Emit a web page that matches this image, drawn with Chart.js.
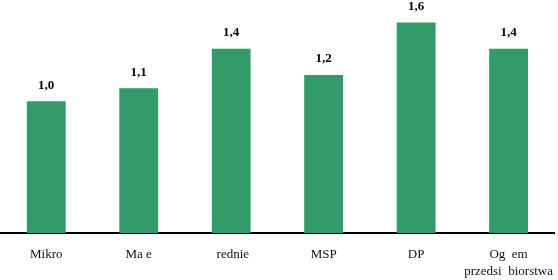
<!DOCTYPE html>
<html>
<head>
<meta charset="utf-8">
<script src="https://cdn.jsdelivr.net/npm/chart.js@4"></script>
<style>
  html, body { margin: 0; padding: 0; background: #fff; }
  #wrap { width: 558px; height: 280px; }
</style>
</head>
<body>
<div id="wrap"><canvas id="chart"></canvas></div>
<script>
const categories = ['Mikro', 'Ma e', ' rednie', 'MSP', 'DP', ['Og  em', 'przedsi  biorstwa']];
const values = [1.0, 1.1, 1.4, 1.2, 1.6, 1.4];

// wartosci nad slupkami, z przecinkiem
const valueLabels = {
    id: 'valueLabels',
    afterDatasetsDraw(chart) {
        const ctx = chart.ctx;
        const meta = chart.getDatasetMeta(0);
        ctx.save();
        ctx.font = 'bold 13px "Liberation Serif"';
        ctx.fillStyle = '#000';
        ctx.textAlign = 'center';
        ctx.textBaseline = 'middle';
        meta.data.forEach(function (bar, i) {
            ctx.fillText(values[i].toFixed(1).replace('.', ','), bar.x, bar.y - 16);
        });
        ctx.restore();
    }
};

const ctx = document.getElementById('chart').getContext('2d');
new Chart(ctx, {
    type: 'bar',
    data: {
        labels: categories,
        datasets: [{
            data: values,
            backgroundColor: '#339a6a',
            barPercentage: 0.42,
            categoryPercentage: 1.0
        }]
    },
    options: {
        responsive: true,
        maintainAspectRatio: false,
        animation: false,
        plugins: {
            legend: { display: false },
            tooltip: { enabled: false }
        },
        scales: {
            x: {
                grid: { display: false },
                border: { display: true, color: '#000', width: 2 },
                afterFit: function (scale) { scale.height = 47; },
                ticks: {
                    color: '#111',
                    padding: 5,
                    font: { family: 'Liberation Serif', size: 13, lineHeight: 1.3 },
                    maxRotation: 0,
                    autoSkip: false
                }
            },
            y: {
                display: false,
                min: 0,
                max: 1.77
            }
        }
    },
    plugins: [valueLabels]
});
</script>
</body>
</html>
